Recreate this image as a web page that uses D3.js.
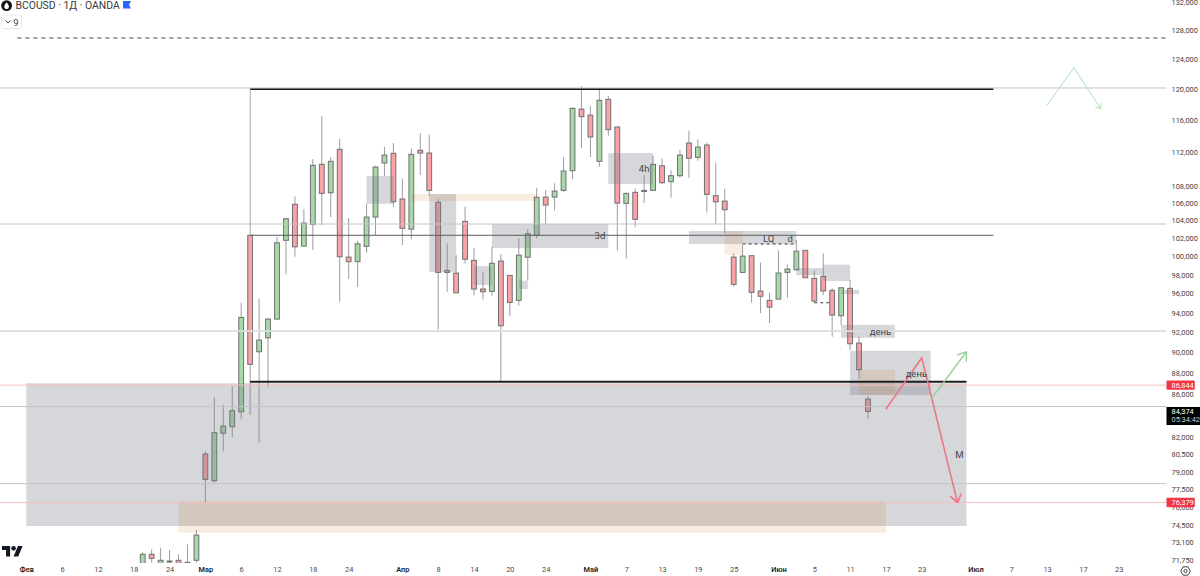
<!DOCTYPE html>
<html>
<head>
<meta charset="utf-8">
<script src="https://cdn.jsdelivr.net/npm/d3@7/dist/d3.min.js"></script>
<style>
html,body{margin:0;padding:0;background:#fff;overflow:hidden}
svg{display:block}
text{font-family:Roboto,"Liberation Sans",sans-serif}
</style>
</head>
<body>
<svg id="chart" width="1200" height="576"></svg>
<script>
// Daily candles, one entry per session, oldest first
const opens = [71.25,72.17,71.10,71.60,71.70,71.54,71.70,80.54,78.22,82.39,82.98,84.35,102.31,90.07,91.46,93.35,101.75,105.84,101.11,103.54,110.57,107.18,112.40,99.90,99.40,101.08,104.37,110.73,111.91,106.45,103.00,112.28,111.94,106.07,98.46,98.16,103.88,99.55,96.47,96.22,99.47,97.92,95.28,99.88,102.31,106.68,106.68,107.46,109.80,117.46,116.68,110.93,118.71,115.18,105.95,107.23,107.34,107.46,110.40,108.49,109.20,113.18,111.42,112.93,106.84,106.21,99.90,98.24,100.05,96.26,95.28,95.41,98.24,98.52,100.64,97.60,97.82,96.33,93.69,96.54,90.93,85.53];
const highs = [72.33,72.57,72.67,72.51,72.17,72.96,74.11,80.80,85.67,85.00,86.76,95.03,102.31,95.45,93.45,102.14,104.26,106.75,105.26,111.20,116.52,111.45,113.70,104.26,101.70,105.87,110.40,112.68,113.18,108.84,112.50,114.42,114.22,106.45,101.41,100.11,105.56,100.89,98.31,101.03,100.22,97.95,101.97,103.01,107.77,107.50,108.30,111.45,117.67,120.46,117.84,120.16,119.14,115.26,107.18,107.70,109.28,111.58,111.25,109.84,112.31,114.72,113.63,113.21,110.76,107.65,100.31,101.22,100.05,99.29,96.08,100.64,99.07,101.78,100.64,98.42,100.31,96.55,96.62,97.42,91.56,85.81];
const lows = [70.94,71.51,70.55,71.41,70.94,70.94,71.51,76.31,78.05,80.77,82.02,83.65,84.05,81.54,86.63,93.30,98.03,99.94,101.05,100.67,103.46,104.38,95.13,97.53,96.67,100.37,102.34,109.16,105.55,101.22,101.86,109.28,106.84,92.30,96.18,96.04,99.18,95.83,95.38,95.76,87.24,93.69,94.72,97.35,101.97,103.58,105.15,107.30,108.81,112.52,111.46,110.29,114.08,100.60,99.76,103.25,105.98,107.44,108.18,106.60,108.96,108.96,111.01,104.91,103.54,102.53,96.71,98.22,95.03,93.96,92.94,95.39,95.55,98.49,97.65,95.03,95.83,91.56,92.74,90.24,87.45,83.71];
const closes = [72.17,71.85,71.70,71.64,71.25,71.41,73.71,78.34,82.44,83.04,84.45,93.52,88.84,91.23,93.35,101.48,104.18,101.03,103.69,110.45,107.11,110.93,99.94,99.40,101.36,104.37,110.24,111.70,106.13,103.09,111.78,111.94,107.46,98.24,98.24,96.07,99.66,96.47,96.18,99.22,92.67,95.07,100.11,102.48,106.65,105.75,107.38,109.76,117.55,116.49,113.93,118.59,114.84,105.98,107.11,104.11,107.46,110.57,108.37,109.20,111.70,111.30,112.68,107.00,106.13,105.21,96.96,100.01,96.12,95.71,94.58,98.17,98.60,100.55,97.67,95.21,96.26,93.76,96.60,90.86,88.32,84.374];

// Price axis labels (thousands) and time axis labels with their session positions
const priceTicks = [132,128,124,120,116,112,108,106,104,102,100,98,96,94,92,90,88,86,82,80.5,79,77.5,76,74.5,73.1,71.75];
const timePositions = [-13,-9,-5,-1,3,7,11,15,19,23,29,33,37,41,45,50,54,58,62,66,71,75,79,83,87,93,97,101,105,109];
const timeLabels = ["Фев","6","12","18","24","Мар","6","12","18","24","Апр","8","14","20","24","Май","7","13","19","25","Июн","5","11","17","23","Июл","7","13","17","23"];
const monthLabels = ["Фев","Мар","Апр","Май","Июн","Июл"];

// Full-width horizontal price levels
const thinLevels = [120.2,103.58,84.83,77.97];
const paleLevels = [92.13];
const redLevels = [86.844,76.379];

// Rectangles as [fromBar,toBar,topPrice,bottomPrice]
const greyZones = [[-13,92,87.02,74.44],[25,28,109.17,105.9],[32,35,107.03,98.28],[37,39,98.92,96.89],[42,43,97.35,96.47],[39,52,103.58,100.89],[52,57,111.94,108.21],[61,73,102.79,101.34],[73,76,98.71,97.95],[76,79,99.07,97.31],[78,80,96.36,95.94],[78,84,92.76,91.46],[79,88,90.17,85.91]];
const tanZones = [[4,83,76.5,73.9],[30,44,107.03,106.21],[65,67,102.79,100.14],[80,84,88.29,85.91]];

// Drawn trend paths as [bar,price] vertices
const redPath = [[83,84.58],[87,89.49],[91,76.36]];
const greenPath = [[88,85.47],[92,90.07]];
const projectedPath = [[101,117.98],[104,122.9],[107,117.48]];

// Notes placed on the chart as [text,bar,price]
const notes = [["3d",51.06,102.3],["4h",56,110.1],["LQ",69.9,102.0],["d",72.3,102.0],["день",82.4,92.13],["день",86.4,88.0],["М",91.2,80.5]];

const svg = d3.select("#chart");
const paneBottom = 563, paneRight = 1166.5;

const x = d3.scaleLinear().domain([0,81]).range([142.7,868]);
const y = d3.scaleLog().domain([120,76.379]).range([89.5,502.5]);

svg.append("defs").append("clipPath").attr("id","pane")
  .append("rect").attr("width",paneRight).attr("height",paneBottom);

const pane = svg.append("g").attr("clip-path","url(#pane)");

// Candles
const bars = d3.range(opens.length);
const candle = pane.append("g").selectAll("g").data(bars).join("g");
candle.append("line")
  .attr("x1",i=>x(i)).attr("x2",i=>x(i))
  .attr("y1",i=>y(highs[i])).attr("y2",i=>y(lows[i]))
  .attr("stroke","#9c9c9c").attr("stroke-width",1);
candle.append("rect")
  .attr("x",i=>x(i)-2.4).attr("width",4.8)
  .attr("y",i=>y(Math.max(opens[i],closes[i])))
  .attr("height",i=>Math.max(1,Math.abs(y(opens[i])-y(closes[i]))))
  .attr("fill",i=>closes[i]>=opens[i]?"#a6d8a8":"#f9a2a7")
  .attr("stroke","#707070").attr("stroke-width",1);

// Zones sit above the candles
const zone = (rows,fill)=>pane.append("g").selectAll("rect").data(rows).join("rect")
  .attr("x",d=>x(d[0])).attr("width",d=>x(d[1])-x(d[0]))
  .attr("y",d=>y(d[2])).attr("height",d=>y(d[3])-y(d[2]))
  .attr("fill",fill);
zone(greyZones,"rgba(120,123,134,0.3)");
zone(tanZones,"rgba(205,97,0,0.12)");

// Levels spanning the pane
const level = (rows,color,width)=>pane.append("g").selectAll("line").data(rows).join("line")
  .attr("x1",0).attr("x2",paneRight)
  .attr("y1",d=>y(d)).attr("y2",d=>y(d))
  .attr("stroke",color).attr("stroke-width",width);
level(thinLevels,"#c4c4c6",1);
level(paleLevels,"#dcdcdc",1.6);
level(redLevels,"#f8bfc3",1);

// Range box edges and dashed marks
const seg = (b0,p0,b1,p1,color,width,dash)=>pane.append("line")
  .attr("x1",x(b0)).attr("x2",x(b1)).attr("y1",y(p0)).attr("y2",y(p1))
  .attr("stroke",color).attr("stroke-width",width).attr("stroke-dasharray",dash||null);
seg(-14,126.96,114.4,126.96,"#444",1,"4 4");
seg(12,120.03,95,120.03,"#111",1.6);
seg(12,120.03,12,102.31,"#a9a9a9",1);
seg(12,102.31,95,102.31,"#5c5c5c",1);
seg(12,87.17,92,87.17,"#1e1e1e",2);
seg(67,101.34,73,101.34,"#333",1,"3 3");
seg(75,95.03,77,95.03,"#444",1,"3 3");

// Trend paths with open arrow heads
function arrowPath(points,color,width,barb){
  const pts = points.map(d=>[x(d[0]),y(d[1])]);
  const line = d3.line();
  pane.append("path").attr("d",line(pts)).attr("fill","none")
    .attr("stroke",color).attr("stroke-width",width).attr("stroke-linejoin","round");
  const a = pts[pts.length-1], b = pts[pts.length-2];
  const ang = Math.atan2(b[1]-a[1],b[0]-a[0]);
  [0.62,-0.62].forEach(t=>{
    pane.append("path")
      .attr("d",line([a,[a[0]+barb*Math.cos(ang+t),a[1]+barb*Math.sin(ang+t)]]))
      .attr("stroke",color).attr("stroke-width",width).attr("fill","none");
  });
}
arrowPath(redPath,"#ef7583",1.6,10);
arrowPath(greenPath,"#93d296",1.4,10);
arrowPath(projectedPath,"#aedfb0",1,6);

// Notes
pane.append("g").selectAll("text").data(notes).join("text")
  .attr("x",d=>x(d[1])).attr("y",d=>y(d[2]))
  .attr("text-anchor","middle").attr("dominant-baseline","central")
  .attr("font-size",9.5).attr("fill","#454545")
  .text(d=>d[0]);

// Price axis
const priceAxis = svg.append("g").attr("transform",`translate(${paneRight},0)`)
  .call(d3.axisRight(y).tickValues(priceTicks).tickSize(0).tickPadding(5)
    .tickFormat(d=>d3.format(",")(Math.round(d*1000))));
priceAxis.select(".domain").remove();
priceAxis.selectAll("text").attr("font-size",7.4).attr("fill","#3f3f3f")
  .style("font-family","Roboto,sans-serif");

// Time axis
const labelAt = new Map(timePositions.map((p,i)=>[p,timeLabels[i]]));
const timeAxis = svg.append("g").attr("transform",`translate(0,${paneBottom})`)
  .call(d3.axisBottom(x).tickValues(timePositions).tickSize(0).tickPadding(4)
    .tickFormat(p=>labelAt.get(p)));
timeAxis.select(".domain").remove();
timeAxis.selectAll("text").attr("font-size",7.4)
  .attr("fill",function(){return monthLabels.includes(this.textContent)?"#222":"#4a4a4a";})
  .attr("font-weight",function(){return monthLabels.includes(this.textContent)?"600":"400";})
  .style("font-family","Roboto,sans-serif");

// Price tags for the drawn levels and the last close
const tag = (price,bg)=>svg.append("rect")
  .attr("x",paneRight).attr("y",y(price)-4.7).attr("width",28.3).attr("height",9.4).attr("rx",1).attr("fill",bg);
const tagText = (price,yPos,color)=>svg.append("text")
  .attr("x",paneRight+5).attr("y",yPos).attr("dominant-baseline","central")
  .attr("font-size",7.4).attr("fill",color).text(price);
redLevels.forEach(p=>{
  tag(p,"#f23645");
  tagText(p,y(p),"#fff").text(d3.format(",")(Math.round(p*1000)));
});
const last = closes[closes.length-1];
svg.append("rect").attr("x",paneRight).attr("y",y(last)-4.5).attr("width",33.5).attr("height",18).attr("fill","#000");
tagText(last,y(last),"#fff").text(d3.format(",")(Math.round(last*1000)));
tagText(last,y(last)+8,"#cfcfcf").text("05:34:42");

// Symbol header
const head = svg.append("g");
head.append("circle").attr("cx",6.6).attr("cy",5.6).attr("r",5.4).attr("fill","#131313");
head.append("path").attr("d","M6.6 2.2C5.2 4.2 4.2 5.4 4.2 6.8a2.4 2.4 0 0 0 4.8 0C9 5.4 8 4.2 6.6 2.2Z").attr("fill","#fff");
head.append("text").attr("x",15.5).attr("y",5.6).attr("dominant-baseline","central")
  .attr("font-size",10.4).attr("fill","#3a3a3a").style("font-family","Roboto,sans-serif")
  .text("BCOUSD · 1Д · OANDA");
head.append("path").attr("d","M123 1H131L129 4.7L131 8.5H123Z").attr("fill","#2962ff");

// Collapsed indicator counter
head.append("rect").attr("x",1.5).attr("y",15).attr("width",20).attr("height",13.5).attr("rx",2)
  .attr("fill","#fff").attr("stroke","#e8e8e8");
head.append("path").attr("d","M5.5 20.5L8 23L10.5 20.5").attr("fill","none").attr("stroke","#444").attr("stroke-width",1);
head.append("text").attr("x",16).attr("y",22).attr("text-anchor","middle").attr("dominant-baseline","central")
  .attr("font-size",9.5).attr("fill","#444").text("9");

// Platform mark
const mark = svg.append("g").attr("transform","translate(2,543.7) scale(0.58)").attr("fill","#131722");
mark.append("path").attr("d","M14 22H7V11H0V4h14v18zM28 22h-8l7.5-18h8L28 22z");
mark.append("circle").attr("cx",20).attr("cy",8).attr("r",4);

// Settings control in the corner
const gear = svg.append("g").attr("transform","translate(1185.5,571)").attr("fill","none").attr("stroke","#333").attr("stroke-width",0.9);
gear.append("path").attr("d","M-2.4 -4.2H2.4L4.8 0L2.4 4.2H-2.4L-4.8 0Z");
gear.append("circle").attr("r",1.6);
</script>
</body>
</html>
